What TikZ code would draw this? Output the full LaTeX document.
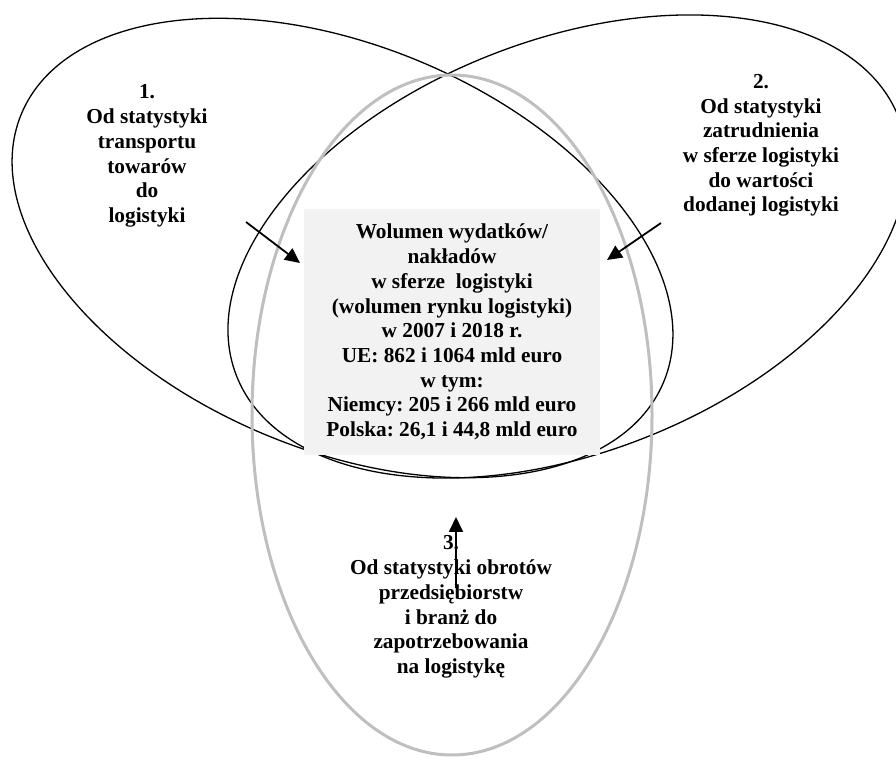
\documentclass[tikz,border=0pt]{standalone}
\usepackage{fontspec}
\setmainfont{Liberation Serif}[BoldFont={Liberation Serif Bold}]
\usetikzlibrary{arrows.meta}
\frenchspacing
\begin{document}
\begin{tikzpicture}[x=1pt,y=1pt,
  blackell/.style={draw=black, line width=1.3pt},
  grayell/.style={draw=black!25, line width=3pt},
  lbl/.style={align=center, font=\fontsize{21.3}{24.7}\selectfont\bfseries, inner sep=0pt},
  volbox/.style={lbl, fill=black!5, minimum width=296pt, minimum height=246pt},
  arr/.style={line width=1.8pt, -{Triangle[length=15pt,width=14pt]}}]
\useasboundingbox (0,0) rectangle (896,760);
\clip (0,0) rectangle (896,760);
% the three ellipses
\draw[blackell, rotate around={-22.7:(342.5,512)}] (342.5,512) ellipse [x radius=348pt, y radius=202pt];
\draw[blackell, rotate around={21.3:(567.5,513.5)}] (567.5,513.5) ellipse [x radius=355.4pt, y radius=206.3pt];
\draw[grayell] (452,345) ellipse [x radius=200pt, y radius=340pt];
% central box
\node[volbox] (vol) at (452,428) {Wolumen wydatków/\\nakładów\\w sferze\ \ logistyki\\(wolumen rynku logistyki)\\w 2007 i 2018 r.\\UE: 862 i 1064 mld euro\\w tym:\\Niemcy: 205 i 266 mld euro\\Polska: 26,1 i 44,8 mld euro};
% labels
\node[lbl] (l1) at (147,604) {1.\\Od statystyki\\transportu\\towarów\\do\\logistyki};
\node[lbl] (l2) at (761,614.5) {2.\\Od statystyki\\zatrudnienia\\w sferze logistyki\\do wartości\\dodanej logistyki};
\node[lbl] (l3) at (451,153) {3.\\Od statystyki obrotów\\przedsiębiorstw\\i branż do\\zapotrzebowania\\na logistykę};
% arrows
\coordinate (a1s) at (246,538);
\coordinate (a1e) at (300,497);
\coordinate (a2s) at (661,537);
\coordinate (a2e) at (607,500);
\coordinate (a3s) at (456,172);
\coordinate (a3e) at (456,243);
\draw[arr] (a1s) -- (a1e);
\draw[arr] (a2s) -- (a2e);
\draw[arr] (a3s) -- (a3e);
\end{tikzpicture}
\end{document}
